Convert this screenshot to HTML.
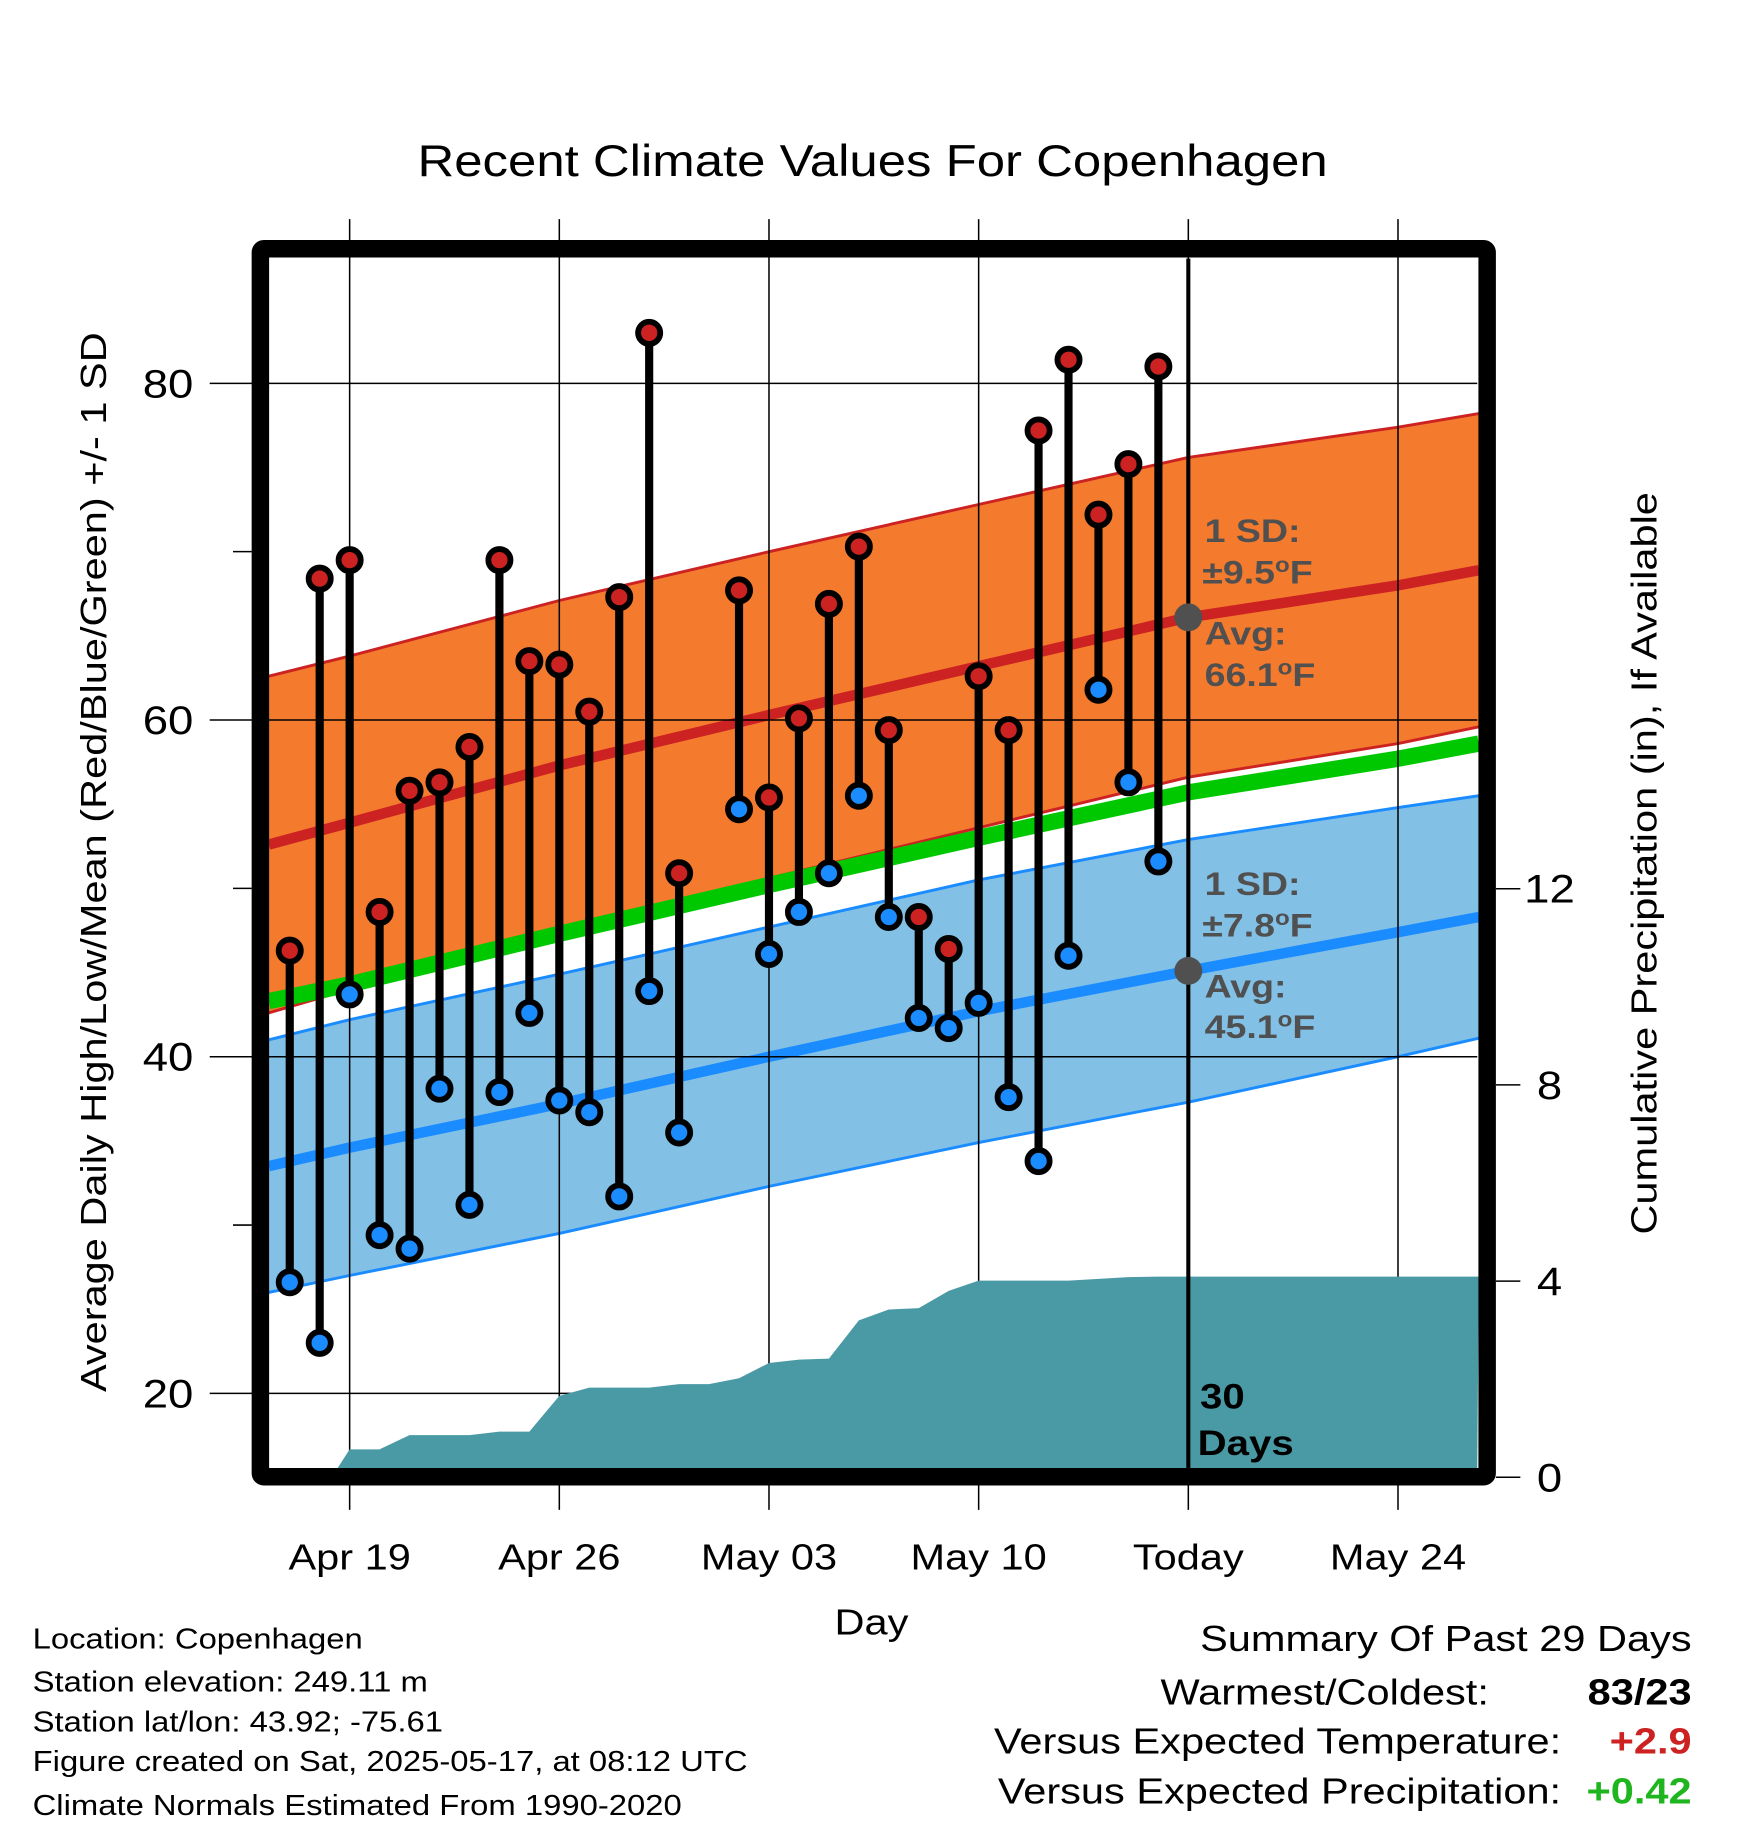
<!DOCTYPE html>
<html><head><meta charset="utf-8"><style>html,body{margin:0;padding:0;background:#fff}svg{display:block}text{font-family:"Liberation Sans",Arial,sans-serif}</style></head>
<body>
<svg id="chart" width="1748" height="1828" viewBox="0 0 1500.4 1569" xmlns="http://www.w3.org/2000/svg">
<text x="749" y="151" font-size="38" text-anchor="middle">Recent Climate Values For Copenhagen</text>
<g id="bands"></g><g id="grid"></g><g id="precip"></g><g id="marks"></g><g id="frame"></g><g id="labels"></g>
</svg>
<script>
// ---- data ----
const dayLabels = ["Apr 19","Apr 26","May 03","May 10","Today","May 24"];
const dayLabelDays = [-28,-21,-14,-7,0,7];
const obsDays = [-30,-29,-28,-27,-26,-25,-24,-23,-22,-21,-20,-19,-18,-17,-15,-14,-13,-12,-11,-10,-9,-8,-7,-6,-5,-4,-3,-2,-1];
const highs = [46.3,68.4,69.5,48.6,55.8,56.3,58.4,69.5,63.5,63.3,60.5,67.3,83.0,50.9,67.7,55.4,60.1,66.9,70.3,59.4,48.3,46.4,62.6,59.4,77.2,81.4,72.2,75.2,81.0];
const lows = [26.6,23.0,43.7,29.4,28.6,38.1,31.2,37.9,42.6,37.4,36.7,31.7,43.9,35.5,54.7,46.1,48.6,50.9,55.5,48.3,42.3,41.7,43.2,37.6,33.8,46.0,61.8,56.3,51.6];
const normDays = [-30.7,-28,-21,-14,-7,0,7,9.7];
const avgHigh = [52.6,53.9,57.3,60.3,63.2,66.1,68.0,68.9];
const sdHigh = [10.0,9.9,9.8,9.7,9.6,9.5,9.4,9.3];
const avgLow = [33.5,34.6,37.2,40.0,42.7,45.1,47.4,48.3];
const sdLow = [7.5,7.6,7.7,7.7,7.8,7.8,7.4,7.2];
const avgMean = [43.3,44.3,47.3,50.2,53.0,55.7,57.7,58.6];
const precipDays = [-28.6,-28,-27,-26,-24,-23,-22,-21,-20,-19,-18,-17,-16,-15,-14,-13,-12,-11,-10,-9,-8,-7,-4,-2,-1,0,9.7];
const precipCum = [0,0.57,0.57,0.86,0.86,0.93,0.93,1.66,1.83,1.83,1.83,1.9,1.9,2.02,2.33,2.4,2.42,3.2,3.42,3.45,3.8,4.01,4.01,4.08,4.09,4.09,4.09];
const yTicks=[20,40,60,80], yMinor=[30,50,70], y2Ticks=[0,4,8,12];
// ---- scales ----
const X0=231,X1=1268,Y0=221,Y1=1260;
const x=d=>1020+d*25.71;
const y=t=>329+(80-t)*14.45;
const y2=p=>1268-p*42.1;
const NS="http://www.w3.org/2000/svg";
function el(tag,attrs,parent,txt){const e=document.createElementNS(NS,tag);for(const k in attrs)e.setAttribute(k,attrs[k]);if(txt!==undefined)e.textContent=txt;document.getElementById(parent).appendChild(e);return e;}
const pts=(ds,vs,f)=>ds.map((d,i)=>x(d).toFixed(1)+","+f(vs[i]).toFixed(1));
const hiUp=avgHigh.map((v,i)=>v+sdHigh[i]),hiLo=avgHigh.map((v,i)=>v-sdHigh[i]);
const loUp=avgLow.map((v,i)=>v+sdLow[i]),loLo=avgLow.map((v,i)=>v-sdLow[i]);
let e=el("polygon",{points:pts(normDays,hiUp,y).concat(pts(normDays,hiLo,y).reverse()).join(" "),fill:"#f47a2e"},"bands");

e=el("polygon",{points:pts(normDays,loUp,y).concat(pts(normDays,loLo,y).reverse()).join(" "),fill:"#82c0e6"},"bands");

[[hiUp,"#cc2222",2.5,'high-sd-upper'],[hiLo,"#cc2222",2.5,'high-sd-lower'],[avgHigh,"#cc2222",9,'avg-high-line'],[loUp,"#1a8cff",2.5,'low-sd-upper'],[loLo,"#1a8cff",2.5,'low-sd-lower'],[avgLow,"#1a8cff",9,'avg-low-line'],[avgMean,"#00c800",14,'avg-mean-line']].forEach(s=>{
 const l=el("polyline",{points:pts(normDays,s[0],y).join(" "),fill:"none",stroke:s[1],"stroke-width":s[2]},"bands");
 });
const pp=pts(precipDays,precipCum,y2);
e=el("polygon",{points:pp.join(" ")+" "+X1+","+Y1+" "+x(precipDays[0]).toFixed(1)+","+Y1,fill:"#4a9aa5"},"precip");

dayLabelDays.forEach((d,i)=>{
 const g=el("line",{x1:x(d),x2:x(d),y1:188,y2:1296,stroke:"#000","stroke-width":1.3},"grid");
 
 const t=el("text",{x:x(d),y:1347,"font-size":31,"text-anchor":"middle"},"labels",dayLabels[i]);
 });
yTicks.forEach(v=>{
 const g=el("line",{x1:180,x2:X1,y1:y(v),y2:y(v),stroke:"#000","stroke-width":1.3},"grid");
 
 const t=el("text",{x:166,y:y(v)+12,"font-size":34,"text-anchor":"end"},"labels",v);
 });
yMinor.forEach(v=>{
 const m=el("line",{x1:200,x2:216,y1:y(v),y2:y(v),stroke:"#000","stroke-width":1.3},"grid");
 });
y2Ticks.forEach(v=>{
 const g=el("line",{x1:1284,x2:1305,y1:y2(v),y2:y2(v),stroke:"#000","stroke-width":1.3},"grid");
 
 const t=el("text",{x:1330,y:y2(v)+12,"font-size":34,"text-anchor":"middle"},"labels",v);
 });
e=el("line",{x1:x(0),x2:x(0),y1:222,y2:Y1,stroke:"#000","stroke-width":3.5},"marks");

obsDays.forEach((d,i)=>{
 const cx=x(d);
 const s=el("line",{x1:cx,x2:cx,y1:y(highs[i]),y2:y(lows[i]),stroke:"#000","stroke-width":7},"marks");
 
 [[highs[i],"#cc2222",'high-point'],[lows[i],"#1a8cff",'low-point']].forEach(p=>{
  const c=el("circle",{cx:cx,cy:y(p[0]),r:9.5,fill:p[1],stroke:"#000","stroke-width":5},"marks");
  });});
e=el("rect",{x:223.5,y:213.5,width:1053,height:1054,fill:"none",stroke:"#000","stroke-width":15,rx:3},"frame");

[[66.1,"high"],[45.1,"low"]].forEach(a=>{
 const c=el("circle",{cx:x(0),cy:y(a[0]),r:12,fill:"#505050"},"marks");
 });
</script>
<svg style="position:absolute;left:0;top:0" width="1748" height="1828" viewBox="0 0 1500.4 1569" xmlns="http://www.w3.org/2000/svg">
<g font-weight="bold" font-size="28" fill="#505050">
<text x="1034" y="465">1 SD:</text>
<text x="1032" y="501">±9.5<tspan dy="-10" font-size="18">o</tspan><tspan dy="10">F</tspan></text>
<text x="1034" y="553">Avg:</text>
<text x="1034" y="589">66.1<tspan dy="-10" font-size="18">o</tspan><tspan dy="10">F</tspan></text>
<text x="1034" y="768">1 SD:</text>
<text x="1032" y="804">±7.8<tspan dy="-10" font-size="18">o</tspan><tspan dy="10">F</tspan></text>
<text x="1034" y="856">Avg:</text>
<text x="1034" y="891">45.1<tspan dy="-10" font-size="18">o</tspan><tspan dy="10">F</tspan></text>
</g>
<g font-weight="bold" font-size="30" fill="#000">
<text x="1030" y="1209">30</text>
<text x="1028" y="1249">Days</text>
</g>
<text x="748" y="1403" font-size="31" text-anchor="middle">Day</text>
<text transform="translate(91,740) rotate(-90)" font-size="31" text-anchor="middle">Average Daily High/Low/Mean (Red/Blue/Green) +/- 1 SD</text>
<text transform="translate(1422,741) rotate(-90)" font-size="31" text-anchor="middle">Cumulative Precipitation (in), If Available</text>
<g font-size="24.5">
<text x="28" y="1415">Location: Copenhagen</text>
<text x="28" y="1452">Station elevation: 249.11 m</text>
<text x="28" y="1486">Station lat/lon: 43.92; -75.61</text>
<text x="28" y="1520">Figure created on Sat, 2025-05-17, at 08:12 UTC</text>
<text x="28" y="1558">Climate Normals Estimated From 1990-2020</text>
</g>
<g font-size="31">
<text x="1452" y="1417" text-anchor="end">Summary Of Past 29 Days</text>
<text x="1278" y="1463" text-anchor="end">Warmest/Coldest:</text>
<text x="1452" y="1463" text-anchor="end" font-weight="bold">83/23</text>
<text x="1340" y="1505" text-anchor="end">Versus Expected Temperature:</text>
<text x="1452" y="1505" text-anchor="end" font-weight="bold" fill="#cc2222">+2.9</text>
<text x="1340" y="1548" text-anchor="end">Versus Expected Precipitation:</text>
<text x="1452" y="1548" text-anchor="end" font-weight="bold" fill="#1fb51f">+0.42</text>
</g>
</svg>
<script>
document.querySelectorAll('svg > text, svg g > text').forEach(t=>{
 const L=t.getComputedTextLength();
 if(L>0){t.setAttribute('textLength',(L*1.15).toFixed(1));t.setAttribute('lengthAdjust','spacingAndGlyphs');}
});
</script>
</body></html>
